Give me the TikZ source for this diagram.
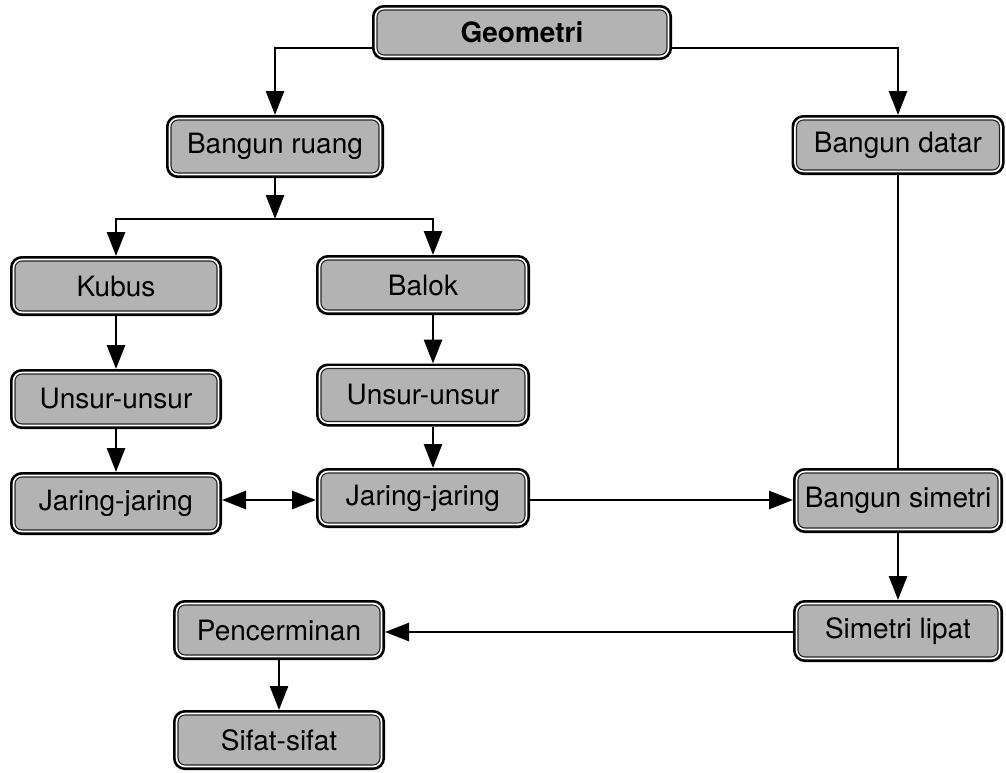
\documentclass[tikz,border=0pt]{standalone}
\usepackage{fontspec}
\setmainfont{TeX Gyre Heros}
\usetikzlibrary{arrows.meta}
\definecolor{boxgray}{RGB}{179,179,179}
\tikzset{
  box/.style={rounded corners=7pt, fill=boxgray, draw=black!85, line width=1.1pt,
    inner sep=0pt, outer sep=5pt, minimum width=#1, minimum height=50pt,
    font=\fontsize{28}{32}\selectfont,
    preaction={draw=black, line width=10pt},
    preaction={draw=white, line width=4.6pt}},
  box/.default=202pt,
  link/.style={line width=2.7pt},
  conn/.style={link, -{Triangle[length=24pt,width=18pt]}},
  both/.style={link, {Triangle[length=24pt,width=18pt]}-{Triangle[length=24pt,width=18pt]}},
}
\begin{document}
\begin{tikzpicture}[x=1pt,y=-1pt]
  \useasboundingbox (0,0) rectangle (1006,772);

  % boxes
  \node[box=290pt, minimum height=45pt] (geo) at (522,32.5) {\bfseries Geometri};
  \node[box=208pt, minimum height=53pt] (br)  at (275,146.5) {Bangun ruang};
  \node[box=203pt] (bd)  at (898,145) {Bangun datar};
  \node[box] (ku)  at (116,286) {Kubus};
  \node[box=204pt] (ba)  at (423,285) {Balok};
  \node[box] (ul)  at (116,399) {Unsur-unsur};
  \node[box=204pt, minimum height=53pt] (ur) at (423,395) {Unsur-unsur};
  \node[box, minimum height=53pt] (jl)  at (116,503.5) {Jaring-jaring};
  \node[box=204pt] (jr)  at (423,498) {Jaring-jaring};
  \node[box=200pt, minimum height=55pt] (bs) at (898,500.5) {Bangun simetri};
  \node[box=200pt, minimum height=52pt] (sl) at (898,631) {Simetri lipat};
  \node[box] (pc)  at (279,630) {Pencerminan};
  \node[box] (sf)  at (279,740) {Sifat-sifat};

  % connectors
  \draw[conn] (geo.west |- 0,48) -| (br.north);
  \draw[conn] (geo.east |- 0,48) -| (bd.north);
  \coordinate (split) at (275,219);
  \coordinate (midcol) at (433,0);
  \draw[conn] (br.south) -- (split);
  \draw[conn] (split) -| (ku.north);
  \draw[conn] (split) -| (midcol |- ba.north);
  \draw[conn] (ku.south) -- (ul.north);
  \draw[conn] (midcol |- ba.south) -- (midcol |- ur.north);
  \draw[conn] (ul.south) -- (jl.north);
  \draw[conn] (midcol |- ur.south) -- (midcol |- jr.north);
  \draw[both] (jl.east |- 0,500) -- (jr.west |- 0,500);
  \draw[conn] (jr.east |- 0,500) -- (bs.west |- 0,500);
  \draw[link] (bd.south) -- (bs.north);
  \draw[conn] (bs.south) -- (sl.north);
  \draw[conn] (sl.west |- 0,632) -- (pc.east |- 0,632);
  \draw[conn] (pc.south) -- (sf.north);
\end{tikzpicture}
\end{document}
